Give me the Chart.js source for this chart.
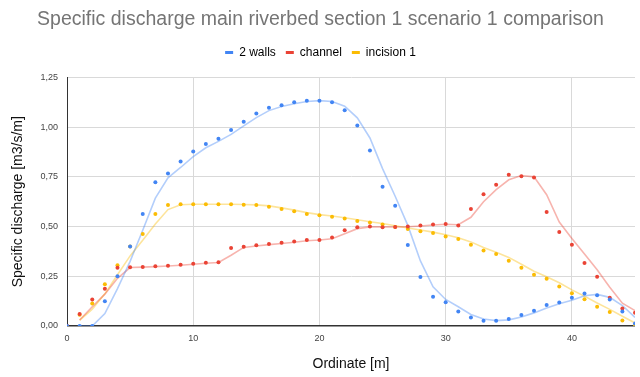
<!DOCTYPE html>
<html>
<head>
<meta charset="utf-8">
<script src="https://cdn.jsdelivr.net/npm/chart.js@4"></script>
<style>
  body { margin: 0; background: #fff; }
  .chart-container { width: 640px; height: 377px; position: relative; }
</style>
</head>
<body>
<div class="chart-container">
  <canvas id="chart"></canvas>
</div>
<script>
const ordinate = [0, 1, 2, 3, 4, 5, 6, 7, 8, 9, 10, 11, 12, 13, 14, 15, 16, 17, 18, 19, 20, 21, 22,
  23, 24, 25, 26, 27, 28, 29, 30, 31, 32, 33, 34, 35, 36, 37, 38, 39, 40, 41, 42, 43, 44, 45];

const twoWalls = [0, 0, 0, 0.125, 0.25, 0.40, 0.563, 0.723, 0.767, 0.827, 0.877, 0.915, 0.942,
  0.985, 1.027, 1.068, 1.098, 1.11, 1.125, 1.133, 1.133, 1.125, 1.085, 1.008, 0.883, 0.70, 0.605,
  0.407, 0.247, 0.147, 0.12, 0.073, 0.043, 0.027, 0.027, 0.035, 0.055, 0.077, 0.105, 0.118, 0.142,
  0.163, 0.155, 0.133, 0.073, 0.013];

const channel = [0, 0.06, 0.133, 0.187, 0.293, 0.295, 0.297, 0.30, 0.303, 0.308, 0.313, 0.318, 0.32,
  0.392, 0.398, 0.406, 0.412, 0.418, 0.425, 0.432, 0.433, 0.445, 0.482, 0.497, 0.50, 0.497, 0.498,
  0.50, 0.505, 0.51, 0.513, 0.505, 0.588, 0.662, 0.71, 0.76, 0.753, 0.747, 0.573, 0.473, 0.408,
  0.317, 0.248, 0.142, 0.088, 0.067];

const incision1 = [0, 0.057, 0.113, 0.21, 0.305, 0.40, 0.462, 0.563, 0.608, 0.612, 0.612, 0.612, 0.612,
  0.612, 0.61, 0.608, 0.60, 0.588, 0.577, 0.563, 0.557, 0.549, 0.54, 0.528, 0.52, 0.51, 0.498,
  0.488, 0.477, 0.467, 0.45, 0.437, 0.409, 0.38, 0.362, 0.328, 0.293, 0.258, 0.237, 0.198, 0.165,
  0.135, 0.097, 0.07, 0.028, 0.002];

const yTicks = [0, 0.25, 0.5, 0.75, 1.0, 1.25];
const xTicks = [0, 10, 20, 30, 40];

const series = [
  { label: '2 walls', values: twoWalls, color: '66, 133, 244' },
  { label: 'channel', values: channel, color: '234, 67, 53' },
  { label: 'incision 1', values: incision1, color: '251, 188, 4' },
];

// moving average trendline (period 2), like the spreadsheet trendline
function movingAverage(values) {
  const out = [];
  for (let i = 1; i < values.length; i++) {
    out.push({ x: ordinate[i], y: (values[i - 1] + values[i]) / 2 });
  }
  return out;
}

const datasets = [];
series.forEach(s => {
  datasets.push({
    label: s.label,
    data: s.values.map((v, i) => ({ x: ordinate[i], y: v })),
    backgroundColor: `rgb(${s.color})`,
    borderColor: `rgb(${s.color})`,
    pointRadius: 2,
    pointBorderWidth: 0,
    showLine: false,
    order: 0,
  });
});
series.forEach(s => {
  datasets.push({
    label: s.label + ' trend',
    data: movingAverage(s.values),
    borderColor: `rgba(${s.color}, 0.4)`,
    borderWidth: 1.6,
    pointRadius: 0,
    showLine: true,
    tension: 0,
    order: 1,
    trend: true,
  });
});

const fmt = v => v.toFixed(2).replace('.', ',');
const FONT = 'Arial, "Liberation Sans", sans-serif';

new Chart(document.getElementById('chart'), {
  type: 'scatter',
  data: { datasets },
  options: {
    responsive: true,
    maintainAspectRatio: false,
    animation: false,
    layout: { padding: { left: 6, right: 5, top: 0, bottom: 0 } },
    plugins: {
      title: {
        display: true,
        text: 'Specific discharge main riverbed section 1 scenario 1 comparison',
        color: '#757575',
        font: { family: FONT, size: 19.5, weight: 'normal' },
        padding: { top: 8, bottom: 5 },
      },
      // empty spacer between legend and plot
      subtitle: {
        display: true,
        text: ' ',
        weight: 500,
        font: { size: 1, lineHeight: 1 },
        padding: { top: 0, bottom: 8 },
      },
      legend: {
        position: 'top',
        labels: {
          boxWidth: 8,
          boxHeight: 3,
          padding: 10,
          color: '#222',
          font: { family: FONT, size: 12 },
          generateLabels: chart => chart.data.datasets
            .filter(ds => !ds.trend)
            .map((ds, i) => ({
              text: ds.label,
              fillStyle: ds.backgroundColor,
              strokeStyle: ds.backgroundColor,
              lineWidth: 0,
              datasetIndex: i,
            })),
        },
      },
      tooltip: { enabled: false },
    },
    scales: {
      x: {
        type: 'linear',
        min: 0,
        max: 45,
        afterBuildTicks: scale => { scale.ticks = xTicks.map(v => ({ value: v })); },
        afterFit: scale => { scale.height = 51; },
        ticks: {
          color: '#444',
          font: { family: FONT, size: 9 },
          maxRotation: 0,
          padding: 7,
        },
        grid: { color: '#d9d9d9', drawTicks: false },
        border: { display: false },
        title: {
          display: true,
          text: 'Ordinate [m]',
          color: '#111',
          font: { family: FONT, size: 14 },
          padding: { top: 18 },
        },
      },
      y: {
        type: 'linear',
        min: 0,
        max: 1.25,
        afterBuildTicks: scale => { scale.ticks = yTicks.map(v => ({ value: v })); },
        afterFit: scale => { scale.width = 61; },
        ticks: {
          color: '#444',
          font: { family: FONT, size: 9 },
          callback: v => fmt(v),
          padding: 9,
        },
        grid: {
          color: ctx => (ctx.tick && ctx.tick.value === 0 ? '#333' : '#d9d9d9'),
          lineWidth: ctx => (ctx.tick && ctx.tick.value === 0 ? 1.5 : 1),
          drawTicks: false,
        },
        border: { color: '#333', width: 1 },
        title: {
          display: true,
          text: 'Specific discharge [m3/s/m]',
          color: '#111',
          font: { family: FONT, size: 14 },
          padding: { bottom: 8 },
        },
      },
    },
  },
});
</script>
</body>
</html>
